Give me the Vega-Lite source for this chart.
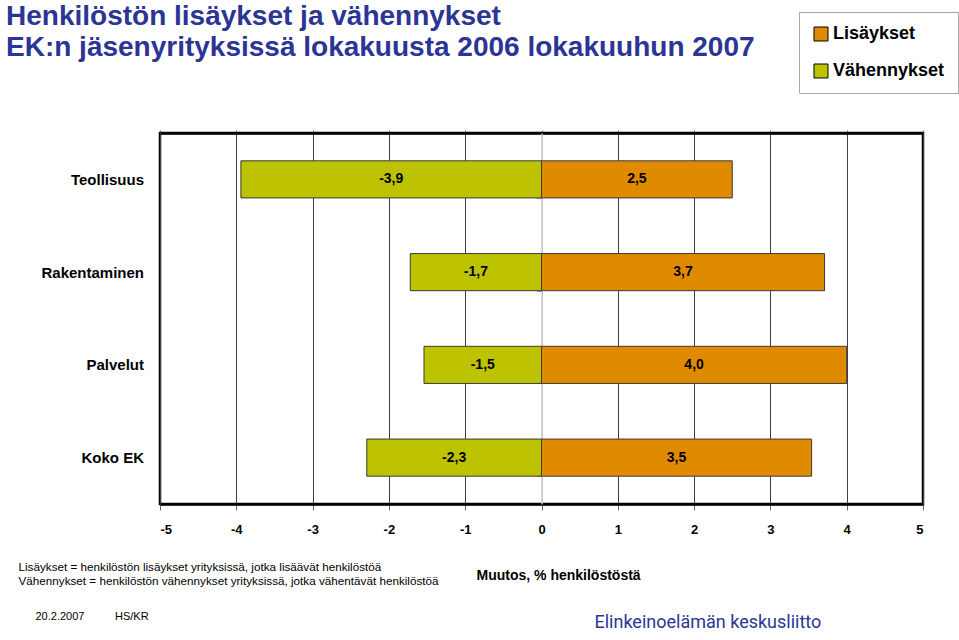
{
  "$schema": "https://vega.github.io/schema/vega-lite/v6.json",
  "autosize": "none",
  "width": 763,
  "height": 371,
  "padding": {"left": 160, "top": 133, "right": 36, "bottom": 136},
  "background": "white",
  "title": {
    "text": ["Henkilöstön lisäykset ja vähennykset", "EK:n jäsenyrityksissä lokakuusta 2006 lokakuuhun 2007"],
    "anchor": "start",
    "frame": "group",
    "orient": "top",
    "fontSize": 28,
    "fontWeight": "bold",
    "font": "Liberation Sans",
    "color": "#2b3595",
    "lineHeight": 31,
    "dx": -154,
    "offset": -50
  },
  "data": {
    "values": [
      {"cat": "Teollisuus", "series": "Lisäykset", "v": 2.5},
      {"cat": "Teollisuus", "series": "Vähennykset", "v": -3.94},
      {"cat": "Rakentaminen", "series": "Lisäykset", "v": 3.71},
      {"cat": "Rakentaminen", "series": "Vähennykset", "v": -1.72},
      {"cat": "Palvelut", "series": "Lisäykset", "v": 4.0},
      {"cat": "Palvelut", "series": "Vähennykset", "v": -1.54},
      {"cat": "Koko EK", "series": "Lisäykset", "v": 3.54},
      {"cat": "Koko EK", "series": "Vähennykset", "v": -2.29}
    ]
  },
  "layer": [
    {
      "mark": {"type": "bar", "stroke": "#3a3a3a", "strokeWidth": 1},
      "encoding": {
        "y": {
          "field": "cat",
          "type": "nominal",
          "sort": ["Teollisuus", "Rakentaminen", "Palvelut", "Koko EK"],
          "scale": {"paddingInner": 0.6, "paddingOuter": 0.3},
          "axis": {
            "orient": "left",
            "offset": -381.5,
            "domainColor": "#c8c8c8",
            "domainWidth": 1.5,
            "ticks": true,
            "tickBand": "extent",
            "tickColor": "#999999",
            "tickSize": 5,
            "labelPadding": 393,
            "labelFontSize": 15,
            "labelFontWeight": "bold",
            "labelColor": "#000000",
            "grid": false,
            "title": ["Lisäykset = henkilöstön lisäykset yrityksissä, jotka lisäävät henkilöstöä", "Vähennykset = henkilöstön vähennykset yrityksissä, jotka vähentävät henkilöstöä"],
            "titleAngle": 0,
            "titleAlign": "left",
            "titleBaseline": "top",
            "titleX": -523.5,
            "titleY": 428,
            "titleFontSize": 11.7,
            "titleFontWeight": "normal",
            "titleColor": "#000000",
            "titleLineHeight": 14
          }
        },
        "x": {
          "field": "v",
          "type": "quantitative",
          "stack": null,
          "scale": {"domain": [-5, 5], "nice": false, "zero": false},
          "axis": {
            "orient": "bottom",
            "values": [-5, -4, -3, -2, -1, 0, 1, 2, 3, 4, 5],
            "format": "d",
            "domainColor": "#000000",
            "domainWidth": 2.5,
            "tickColor": "#666666",
            "tickSize": 6,
            "labelFontSize": 13,
            "labelFontWeight": "bold",
            "labelColor": "#000000",
            "labelPadding": 13,
            "grid": true,
            "gridColor": {"condition": {"test": "datum.value === 0", "value": "#c8c8c8"}, "value": "#404040"},
            "gridWidth": 1,
            "title": "Muutos, % henkilöstöstä",
            "titleAnchor": "start",
            "titleAlign": "left",
            "titleBaseline": "middle",
            "titleX": 316,
            "titleY": 71,
            "titleFontSize": 14,
            "titleFontWeight": "bold",
            "titleColor": "#000000"
          }
        },
        "color": {
          "field": "series",
          "type": "nominal",
          "scale": {"domain": ["Lisäykset", "Vähennykset"], "range": ["#e08a00", "#bdc300"]},
          "legend": {
            "orient": "none",
            "legendX": 639,
            "legendY": -121,
            "title": null,
            "direction": "vertical",
            "strokeColor": "#a8a8a8",
            "fillColor": "#ffffff",
            "padding": 13,
            "rowPadding": 19,
            "symbolType": "square",
            "symbolSize": 196,
            "symbolStrokeColor": "#000000",
            "symbolStrokeWidth": 1,
            "symbolOpacity": 1,
            "labelFontSize": 18,
            "labelFontWeight": "bold",
            "labelColor": "#000000",
            "labelOffset": 3
          }
        }
      }
    },
    {
      "transform": [{"calculate": "datum.v / 2", "as": "mid"}],
      "mark": {"type": "text", "fontSize": 14, "fontWeight": "bold", "color": "#000000", "align": "center", "baseline": "middle"},
      "encoding": {
        "y": {
          "field": "cat",
          "type": "nominal",
          "sort": ["Teollisuus", "Rakentaminen", "Palvelut", "Koko EK"],
          "axis": {
            "orient": "right",
            "domain": false,
            "ticks": false,
            "labels": false,
            "grid": false,
            "title": "Elinkeinoelämän keskusliitto",
            "titleAngle": 0,
            "titleAlign": "left",
            "titleBaseline": "alphabetic",
            "titleX": -329,
            "titleY": 494,
            "titleFont": "Roboto",
            "titleFontSize": 18,
            "titleFontWeight": "normal",
            "titleColor": "#2b3595"
          }
        },
        "x": {
          "field": "mid",
          "type": "quantitative",
          "axis": {
            "orient": "top",
            "values": [-5, -4, -3, -2, -1, 0, 1, 2, 3, 4, 5],
            "domainColor": "#000000",
            "domainWidth": 2.5,
            "tickColor": "#666666",
            "tickSize": 3,
            "labels": false,
            "grid": false,
            "title": "20.2.2007\u00a0\u00a0\u00a0\u00a0\u00a0\u00a0\u00a0\u00a0\u00a0\u00a0HS/KR",
            "titleAnchor": "start",
            "titleAlign": "left",
            "titleBaseline": "alphabetic",
            "titleX": -125,
            "titleY": 486,
            "titleFontSize": 11,
            "titleFontWeight": "normal",
            "titleColor": "#000000"
          }
        },
        "text": {"field": "v", "type": "quantitative", "format": ".1f"}
      }
    }
  ],
  "resolve": {"axis": {"x": "independent", "y": "independent"}},
  "config": {
    "font": "Liberation Sans",
    "view": {"stroke": "#000000", "strokeWidth": 2.5},
    "locale": {"number": {"decimal": ",", "thousands": "\u00a0", "grouping": [3], "currency": ["", " €"], "minus": "-"}}
  }
}
